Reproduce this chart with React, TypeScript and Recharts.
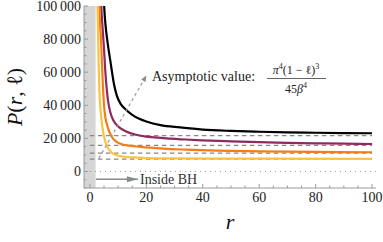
import { LineChart, Line, XAxis, YAxis, ReferenceArea, ReferenceLine } from 'recharts';

// plot frame
const X_MIN = -2.1;
const X_MAX = 101.4;
const Y_MIN = -10000;
const Y_MAX = 100000;
const W = 383;
const H = 242;
const M_TOP = 6;
const M_RIGHT = 7;
const Y_AXIS_W = 84;
const X_AXIS_H = 54;
const PLOT_W = W - Y_AXIS_W - M_RIGHT;
const PLOT_H = H - M_TOP - X_AXIS_H;

// curves, ℓ = 0, 0.1, 0.2, 0.3 (top to bottom)
const blackR = [4.9, 5.3, 5.8, 6.3, 7.4, 8.5, 9.5, 11, 12.5, 15, 17.5, 20, 25, 32, 40, 50, 60, 70, 80, 90, 100];
const blackP = [104000, 93000, 84000, 77400, 65000, 53000, 46000, 40500, 37800, 34200, 31800, 30200, 28000, 26600, 25300, 24500, 24000, 23600, 23400, 23200, 23100];

const purpleR = [3.9, 4.2, 4.6, 5.0, 5.4, 5.9, 6.4, 7.2, 8.0, 9.0, 10.5, 12.5, 16, 20, 26, 34, 40, 50, 60, 70, 80, 90, 100];
const purpleP = [104000, 94000, 84000, 74000, 62000, 51000, 43000, 36000, 32000, 29000, 26500, 24500, 22300, 21000, 20200, 19300, 18800, 18200, 17700, 17300, 17000, 16800, 16600];

const orangeR = [3.2, 3.45, 3.7, 4.0, 4.3, 4.6, 5.0, 5.5, 6.2, 6.8, 7.8, 9.2, 11, 14, 18, 26, 34, 45, 60, 80, 100];
const orangeP = [104000, 95000, 86000, 77000, 64000, 52000, 40000, 32500, 27500, 24300, 20800, 18200, 16600, 15600, 14800, 13800, 13200, 12600, 12100, 11800, 11600];

const yellowR = [2.65, 2.75, 2.9, 3.05, 3.3, 3.5, 3.9, 4.4, 5.1, 5.8, 6.8, 8.0, 9.5, 11.6, 15, 20, 30, 45, 65, 100];
const yellowP = [104000, 95000, 82000, 68000, 52000, 44000, 34600, 27000, 20300, 16300, 13150, 11000, 9800, 9050, 8500, 8100, 7850, 7750, 7700, 7650];

const curveColors = ['#000000', '#8e2a5f', '#f57c16', '#fdc23e'];
const asymptotes = [21650, 15780, 11080, 7420];

// annotation arrows
const noteArrowR = [3.2, 20];
const noteArrowP = [8000, 58000];
const bhArrowR = [2.1, 17];
const bhArrowP = [-4700, -4700];

const xTicks = [0, 5, 10, 15, 20, 25, 30, 35, 40, 45, 50, 55, 60, 65, 70, 75, 80, 85, 90, 95, 100];
const yTicks = [-10000, -5000, 0, 5000, 10000, 15000, 20000, 25000, 30000, 35000, 40000, 45000, 50000, 55000, 60000, 65000, 70000, 75000, 80000, 85000, 90000, 95000, 100000];

const toPoints = (rs: number[], ps: number[]) => rs.map((r, i) => ({ r, P: ps[i] }));

const series = [
  toPoints(blackR, blackP),
  toPoints(purpleR, purpleP),
  toPoints(orangeR, orangeP),
  toPoints(yellowR, yellowP),
];

const FRAME = '#9a9a9a';
const SERIF = 'Liberation Serif';
const fmt = (v: number) => (v >= 1000 ? `${Math.floor(v / 1000)}\u2009${String(v % 1000).padStart(3, '0')}` : String(v));

const BottomTick = (p: any) => {
  const v = p.payload.value;
  const major = v % 20 === 0;
  return (
    <g>
      <line x1={p.x} x2={p.x} y1={p.y} y2={p.y - (major ? 4 : 2.5)} stroke={FRAME} />
      {major && (
        <text x={p.x} y={p.y + 14} textAnchor="middle" fontSize={14} fill="#222" fontFamily={SERIF}>
          {v}
        </text>
      )}
    </g>
  );
};

const TopTick = (p: any) => {
  const major = p.payload.value % 20 === 0;
  return <line x1={p.x} x2={p.x} y1={p.y} y2={p.y + (major ? 4 : 2.5)} stroke={FRAME} />;
};

const LeftTick = (p: any) => {
  const v = p.payload.value;
  const major = v % 20000 === 0;
  return (
    <g>
      <line x1={p.x} x2={p.x + (major ? 4 : 2.5)} y1={p.y} y2={p.y} stroke={FRAME} />
      {major && (
        <text x={p.x - 3} y={p.y + 5} textAnchor="end" fontSize={14} fill="#222" fontFamily={SERIF}>
          {fmt(v)}
        </text>
      )}
    </g>
  );
};

const RightTick = (p: any) => {
  const major = p.payload.value % 20000 === 0;
  return <line x1={p.x} x2={p.x - (major ? 4 : 2.5)} y1={p.y} y2={p.y} stroke={FRAME} />;
};

// arrow heads, drawn at the last point of a line
const noteAngle = Math.atan2(
  -((noteArrowP[1] - noteArrowP[0]) * PLOT_H) / (Y_MAX - Y_MIN),
  ((noteArrowR[1] - noteArrowR[0]) * PLOT_W) / (X_MAX - X_MIN)
);
const arrowHead = (len: number, half: number, angle: number, last: number) => (p: any) => {
  if (p.index !== last) return <g key={p.index} />;
  const c = Math.cos(angle);
  const s = Math.sin(angle);
  const bx = p.cx - len * c;
  const by = p.cy - len * s;
  const pts = `${p.cx},${p.cy} ${bx - half * s},${by + half * c} ${bx + half * s},${by - half * c}`;
  return <polygon key={p.index} points={pts} fill="#8a8a8a" />;
};

export default function App() {
  return (
    <div style={{ position: 'relative', width: W, height: H }}>
      <style>{'body{margin:0}'}</style>
      <LineChart width={W} height={H} margin={{ top: M_TOP, right: M_RIGHT, bottom: 0, left: 0 }}>
        <XAxis
          dataKey="r"
          type="number"
          domain={[X_MIN, X_MAX]}
          allowDataOverflow
          ticks={xTicks}
          interval={0}
          height={X_AXIS_H}
          tickSize={0}
          tickMargin={0}
          tickLine={false}
          axisLine={{ stroke: FRAME }}
          tick={(p: any) => <BottomTick {...p} />}
        />
        <XAxis
          xAxisId="t"
          orientation="top"
          type="number"
          domain={[X_MIN, X_MAX]}
          allowDataOverflow
          ticks={xTicks}
          interval={0}
          height={0}
          tickSize={0}
          tickMargin={0}
          tickLine={false}
          axisLine={{ stroke: FRAME }}
          tick={(p: any) => <TopTick {...p} />}
        />
        <YAxis
          type="number"
          domain={[Y_MIN, Y_MAX]}
          allowDataOverflow
          ticks={yTicks}
          interval={0}
          width={Y_AXIS_W}
          tickSize={0}
          tickMargin={0}
          tickLine={false}
          axisLine={{ stroke: FRAME }}
          tick={(p: any) => <LeftTick {...p} />}
        />
        <YAxis
          yAxisId="r"
          orientation="right"
          type="number"
          domain={[Y_MIN, Y_MAX]}
          allowDataOverflow
          ticks={yTicks}
          interval={0}
          width={0}
          tickSize={0}
          tickMargin={0}
          tickLine={false}
          axisLine={{ stroke: FRAME }}
          tick={(p: any) => <RightTick {...p} />}
        />
        <ReferenceArea x1={X_MIN} x2={2} y1={Y_MIN} y2={Y_MAX} fill="#d5d5d5" fillOpacity={1} stroke="none" />
        <ReferenceLine
          segment={[{ x: 0, y: 0 }, { x: X_MAX, y: 0 }]}
          stroke="#999"
          strokeDasharray="1 4"
        />
        {asymptotes.map((v) => (
          <ReferenceLine
            key={v}
            segment={[{ x: 0, y: v }, { x: 100, y: v }]}
            stroke="#888"
            strokeWidth={1.3}
            strokeDasharray="4.5 3.5"
          />
        ))}
        {series.map((d, i) => (
          <Line
            key={i}
            data={d}
            dataKey="P"
            type="monotone"
            stroke={curveColors[i]}
            strokeWidth={2.2}
            dot={false}
            isAnimationActive={false}
          />
        ))}
        <Line
          data={toPoints(noteArrowR, noteArrowP)}
          dataKey="P"
          type="linear"
          stroke="#999"
          strokeWidth={1.2}
          strokeDasharray="3 3"
          dot={arrowHead(6, 2.5, noteAngle, noteArrowR.length - 1)}
          isAnimationActive={false}
        />
        <Line
          data={toPoints(bhArrowR, bhArrowP)}
          dataKey="P"
          type="linear"
          stroke="#8a8a8a"
          strokeWidth={1.5}
          dot={arrowHead(11, 3, 0, bhArrowR.length - 1)}
          isAnimationActive={false}
        />
      </LineChart>
      <svg width={W} height={H} style={{ position: 'absolute', left: 0, top: 0, pointerEvents: 'none' }}>
        <text transform="translate(22,97) rotate(-90)" textAnchor="middle" fontSize={22} fill="#111" fontFamily={SERIF}>
          <tspan fontStyle="italic">P</tspan>(<tspan fontStyle="italic">r</tspan>, ℓ)
        </text>
        <text x={230} y={229} textAnchor="middle" fontSize={22} fontStyle="italic" fill="#111" fontFamily={SERIF}>
          r
        </text>
        <text x={140} y={184} fontSize={14} fill="#333" fontFamily={SERIF}>
          Inside BH
        </text>
        <text x={152} y={81} fontSize={14} fill="#222" fontFamily={SERIF}>
          Asymptotic value:
        </text>
        <text x={296} y={74} textAnchor="middle" fontSize={12} fill="#222" fontFamily={SERIF}>
          <tspan fontStyle="italic">π</tspan>
          <tspan fontSize={8} dy={-5}>4</tspan>
          <tspan dy={5}>(1 − ℓ)</tspan>
          <tspan fontSize={8} dy={-5}>3</tspan>
        </text>
        <line x1={267} x2={326} y1={78.5} y2={78.5} stroke="#222" strokeWidth={0.7} />
        <text x={296} y={93} textAnchor="middle" fontSize={12} fill="#222" fontFamily={SERIF}>
          45<tspan fontStyle="italic">β</tspan>
          <tspan fontSize={8} dy={-5}>4</tspan>
        </text>
      </svg>
    </div>
  );
}
